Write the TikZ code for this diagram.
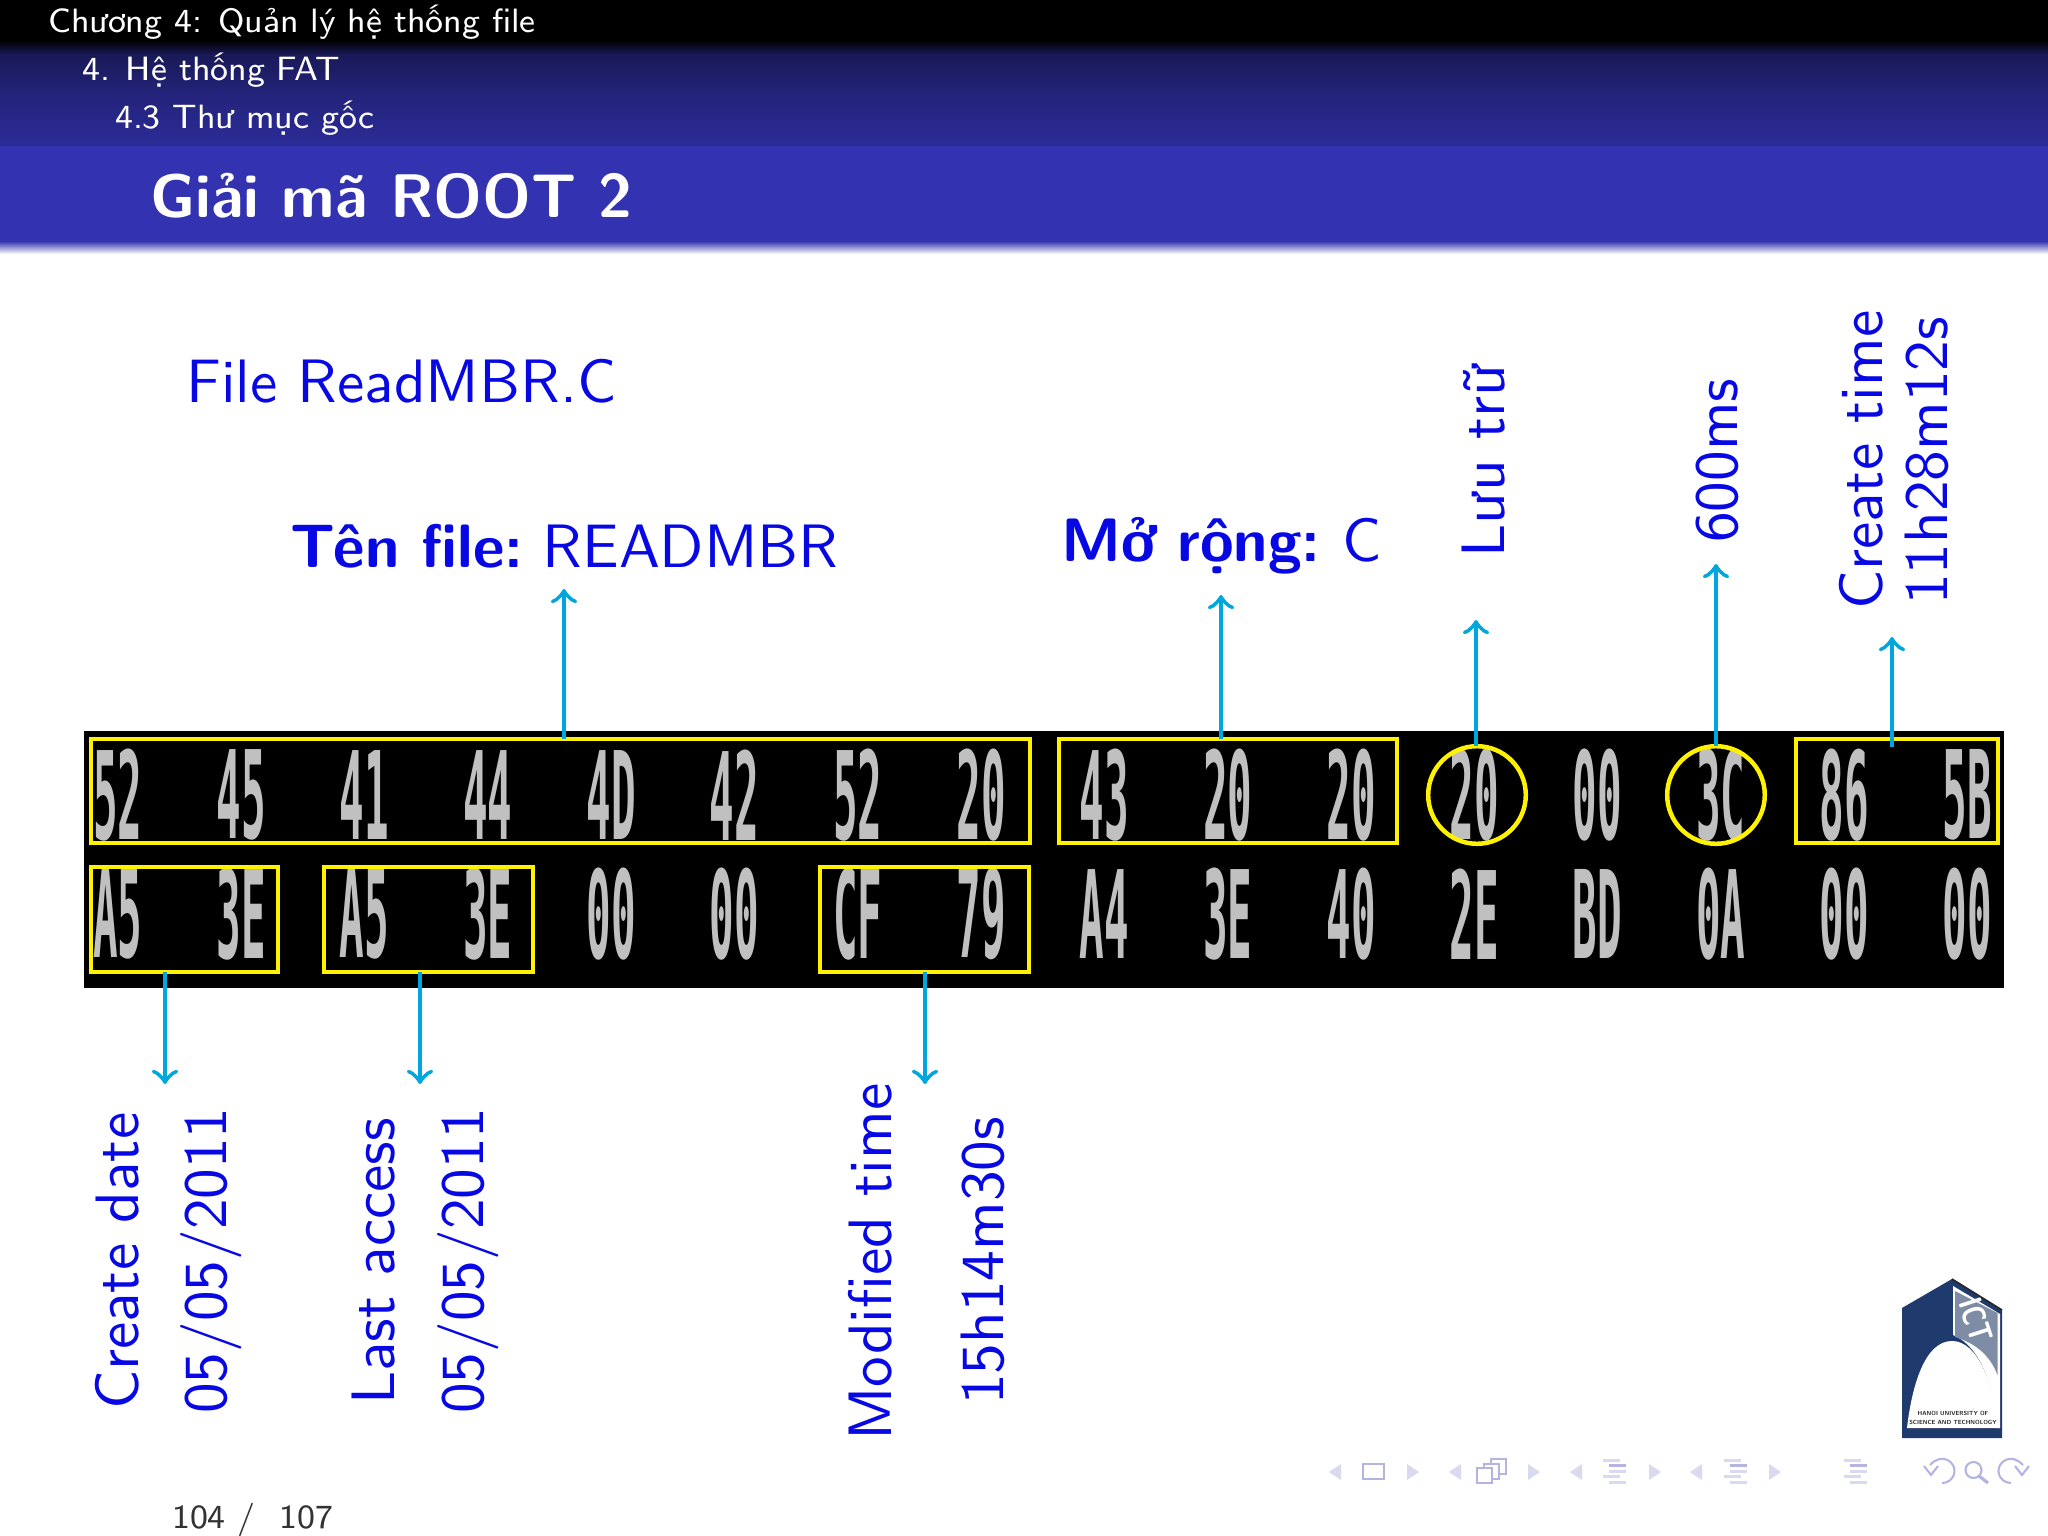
\documentclass[tikz,border=0pt]{standalone}
\usepackage{fontspec}
\setmainfont{Latin Modern Sans}
\newfontfamily\hexfont[Scale=1]{DejaVu Sans Mono}
\usetikzlibrary{fit}
\definecolor{slideblue}{HTML}{0808E4}
\definecolor{arrowcyan}{HTML}{00A6DC}
\definecolor{barblue}{HTML}{3333B2}
\definecolor{logonavy}{HTML}{1F3A6C}
\definecolor{logogray}{HTML}{7F8CA6}
\definecolor{navmain}{HTML}{B4B4E2}
\definecolor{navsoft}{HTML}{D9D9F0}
\definecolor{hexgray}{HTML}{C0C0C0}
\tikzset{
  headtext/.style={anchor=base west, inner sep=0pt, white, font=\fontsize{6}{8}\selectfont},
  slidetext/.style={anchor=base west, inner sep=0pt, slideblue, font=\fontsize{10.9}{13}\selectfont},
  sidetext/.style={slidetext, rotate=90},
  hexbyte/.style={inner sep=0pt, text=hexgray, font=\hexfont\bfseries\fontsize{21.7}{22}\selectfont},
  yellowbox/.style={draw=yellow, line width=0.28mm, inner sep=0pt, outer sep=0pt},
  yellowring/.style={circle, draw=yellow, line width=0.28mm, inner sep=0pt, outer sep=0pt, minimum size=6.1mm},
  cyanarrow/.style={->, arrowcyan, line width=0.27mm},
  navtri/.style={fill=navsoft},
  navline/.style={draw=navmain, line width=0.13mm}
}
\newcommand{\hexcell}[1]{\scalebox{0.335}[1]{#1}}
\begin{document}
\begin{tikzpicture}[x=0.0625mm, y=-0.0625mm, >=to]
    \useasboundingbox (0,0) rectangle (2048,1536);
    % header bars
    \fill[black] (0,0) rectangle (2048,44);
    \shade[top color=black, bottom color=barblue!55!black] (0,40) rectangle (2048,56);
    \shade[top color=barblue!50!black, bottom color=barblue!70!black] (0,56) rectangle (2048,96);
    \shade[top color=barblue!70!black, bottom color=barblue!85!black] (0,96) rectangle (2048,146);
    \fill[barblue] (0,146) rectangle (2048,241);
    \shade[top color=barblue, bottom color=white] (0,241) rectangle (2048,254);
    \node[headtext] (chapter) at (47,33) {Chương 4: Quản lý hệ thống file};
    \node[headtext] (section) at (81,81) {4. Hệ thống FAT};
    \node[headtext] (subsection) at (114,129) {4.3 Thư mục gốc};
    \node[anchor=base west, inner sep=0pt, white, font=\bfseries\fontsize{10.95}{13}\selectfont] (title) at (149,217) {Giải mã ROOT 2};
    % the dump
    \fill[black] (84,731) rectangle (2004,988);
    \foreach \i/\lab in {0/52,1/45,2/41,3/44,4/4D,5/42,6/52,7/20,8/43,9/20,10/20,11/20,12/00,13/3C,14/86,15/5B}
        \node[hexbyte] (upper\i) at ({118+123.3*\i},795) {\hexcell{\lab}};
    \foreach \i/\lab in {0/A5,1/3E,2/A5,3/3E,4/00,5/00,6/CF,7/79,8/A4,9/3E,10/40,11/2E,12/BD,13/0A,14/00,15/00}
        \node[hexbyte] (lower\i) at ({118+123.3*\i},914) {\hexcell{\lab}};
    % yellow marks
    \node[yellowbox, fit={(91,739) (1030,843)}] (namebox) {};
    \node[yellowbox, fit={(1059,739) (1397,843)}] (extbox) {};
    \node[yellowbox, fit={(1796,739) (1998,843)}] (ctimebox) {};
    \node[yellowbox, fit={(91,867) (278,972)}] (cdatebox) {};
    \node[yellowbox, fit={(324,867) (533,972)}] (adatebox) {};
    \node[yellowbox, fit={(820,867) (1029,972)}] (mtimebox) {};
    \node[yellowring] (attrring) at (1477,795) {};
    \node[yellowring] (msring) at (1716,795) {};
    % arrow ends
    \coordinate (nametip) at (564,589);
    \coordinate (exttip) at (1221,595);
    \coordinate (attrtip) at (1476,620);
    \coordinate (mstip) at (1716,564);
    \coordinate (ctimetip) at (1892,637);
    \coordinate (cdatetip) at (165,1084);
    \coordinate (adatetip) at (420,1084);
    \coordinate (mtimetip) at (925,1084);
    \draw[cyanarrow] (namebox.north -| nametip) -- (nametip);
    \draw[cyanarrow] (extbox.north -| exttip) -- (exttip);
    \draw[cyanarrow] (attrring.north -| attrtip) -- (attrtip);
    \draw[cyanarrow] (msring.north -| mstip) -- (mstip);
    \draw[cyanarrow, shorten <=-0.5mm] (ctimebox.north -| ctimetip) -- (ctimetip);
    \draw[cyanarrow] (cdatebox.south -| cdatetip) -- (cdatetip);
    \draw[cyanarrow] (adatebox.south -| adatetip) -- (adatetip);
    \draw[cyanarrow] (mtimebox.south -| mtimetip) -- (mtimetip);
    % labels
    \node[slidetext] (filename) at (185,402) {File ReadMBR.C};
    \node[slidetext] (namelabel) at (289,567) {\textbf{Tên file:}\hspace{-1.4pt} READMBR};
    \node[slidetext] (extlabel) at (1060,561) {\textbf{Mở rộng:}\hspace{-1pt} C};
    \node[sidetext] (attrlabel) at (1504,559) {Lưu trữ};
    \node[sidetext] (mslabel) at (1737,544) {600ms};
    \node[sidetext] (ctimelabel) at (1882,611) {Create time};
    \node[sidetext] (ctimeval) at (1947,606) {11h28m12s};
    \node[sidetext] (cdatelabel) at (138,1411) {Create date};
    \node[sidetext] (cdateval) at (227,1415) {05/05/2011};
    \node[sidetext] (adatelabel) at (394,1406) {Last access};
    \node[sidetext] (adateval) at (483,1415) {05/05/2011};
    \node[sidetext] (mtimelabel) at (891,1442) {Modified time};
    \node[sidetext] (mtimeval) at (1003,1406) {15h14m30s};
    \node[anchor=base west, inner sep=0pt, black!80, font=\fontsize{6}{8}\selectfont] (pageno) at (171,1528) {104 /\ \ 107};
    % logo
    \fill[logonavy] (1902,1438) -- (1902,1308) -- (1952,1279) -- (2002,1310) -- (2002,1438) -- cycle;
    \draw[black!85, line width=0.1mm] (1952,1279) -- (2002,1310);
    \fill[white] (1953,1286) -- (2000,1314) -- (2000,1428) -- (1997,1428) .. controls (1994,1385) and (1980,1346) .. (1953,1335) -- cycle;
    \fill[logogray] (1955,1291) -- (1997.5,1313) -- (1997.5,1375) .. controls (1990,1355) and (1975,1343) .. (1955,1337) -- cycle;
    \fill[white] (1907,1428) .. controls (1912,1385) and (1925,1341) .. (1952,1341) .. controls (1978,1341) and (1994,1385) .. (1999,1428) -- cycle;
    \node[white, inner sep=0pt, rotate=-72, font=\bfseries\fontsize{5.6}{7}\selectfont] (ictmark) at (1976,1320) {\scalebox{0.8}[1.05]{ICT}};
    \node[inner sep=0pt, align=center, black!85, font=\bfseries\fontsize{1.05}{1.55}\selectfont] (logotext) at (1953,1418) {HANOI UNIVERSITY OF\\SCIENCE AND TECHNOLOGY};
    % navigation symbols
    \foreach \i/\dir in {1329/1,1407/-1,1449/1,1528/-1,1570/1,1649/-1,1690/1,1769/-1}
        \fill[navtri] ({\i+6-6*\dir},1472) -- ({\i+6+6*\dir},1464) -- ({\i+6+6*\dir},1480) -- cycle;
    \draw[navline] (1363,1464) rectangle (1384,1479);
    \draw[navline, fill=white] (1491,1459) rectangle (1506,1474);
    \draw[navline, fill=white] (1484,1464) rectangle (1499,1479);
    \draw[navline, fill=white] (1477,1468) rectangle (1492,1483);
    \foreach \i in {1603,1724,1844} {
        \fill[navsoft] (\i,1459) rectangle ++(17,3);
        \fill[navmain] ({\i+6},1464) rectangle ++(17,3);
        \fill[navsoft] ({\i+6},1470) rectangle ++(17,3);
        \fill[navsoft] (\i,1475) rectangle ++(17,3);
        \fill[navsoft] ({\i+6},1481) rectangle ++(17,3);
    }
    \draw[navline] (1930,1465) .. controls (1942,1452) and (1955,1462) .. (1954.5,1471) .. controls (1954,1480) and (1947,1483) .. (1942,1483);
    \draw[navline] (1924,1466) -- (1931,1475) -- (1938,1466);
    \draw[navline] (1973.5,1470) circle [radius=8];
    \draw[navline, line width=0.2mm] (1979,1476) -- (1988,1483);
    \draw[navline] (2023,1465) .. controls (2011,1452) and (1998,1462) .. (1998.5,1471) .. controls (1999,1480) and (2006,1483) .. (2011,1483);
    \draw[navline] (2029,1466) -- (2022,1475) -- (2015,1466);
\end{tikzpicture}
\end{document}
